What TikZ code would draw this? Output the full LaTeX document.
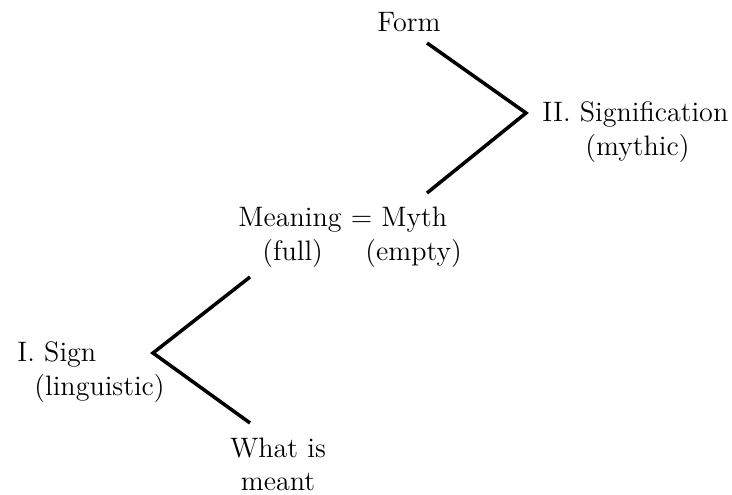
\documentclass[tikz,border=0pt]{standalone}

\begin{document}
\begin{tikzpicture}[x=0.015cm, y=-0.015cm,
    lbl/.style={inner sep=0pt, font=\fontsize{12}{14.5}\selectfont},
    arm/.style={line width=1.5pt}]
    \useasboundingbox (0,0) rectangle (732,495);
    % second system (myth)
    \node[lbl, anchor=base] (form) at (409,32) {Form};
    \node[lbl, anchor=base west] (sig) at (542,122) {II. Signification};
    \node[lbl, anchor=base west] (mythic) at (585,156) {(mythic)};
    \node[lbl, anchor=base west] (meaning) at (238,227) {Meaning = Myth};
    \node[lbl, anchor=base west] (full) at (262,261) {(full)};
    \node[lbl, anchor=base west] (empty) at (365,261) {(empty)};
    % first system (language)
    \node[lbl, anchor=base west] (sign) at (17,362) {I. Sign};
    \node[lbl, anchor=base west] (ling) at (34,396) {(linguistic)};
    \node[lbl, anchor=base] (what) at (278,458) {What is};
    \node[lbl, anchor=base] (meant) at (278,491) {meant};
    \coordinate (formend) at (427,43);
    \coordinate (sigtip) at (526,113);
    \coordinate (mythend) at (427,193);
    \coordinate (fullend) at (250,277);
    \coordinate (signtip) at (153,353);
    \coordinate (whatend) at (250,423);
    \draw[arm] (formend) -- (sigtip) -- (mythend);
    \draw[arm] (fullend) -- (signtip) -- (whatend);
\end{tikzpicture}
\end{document}
